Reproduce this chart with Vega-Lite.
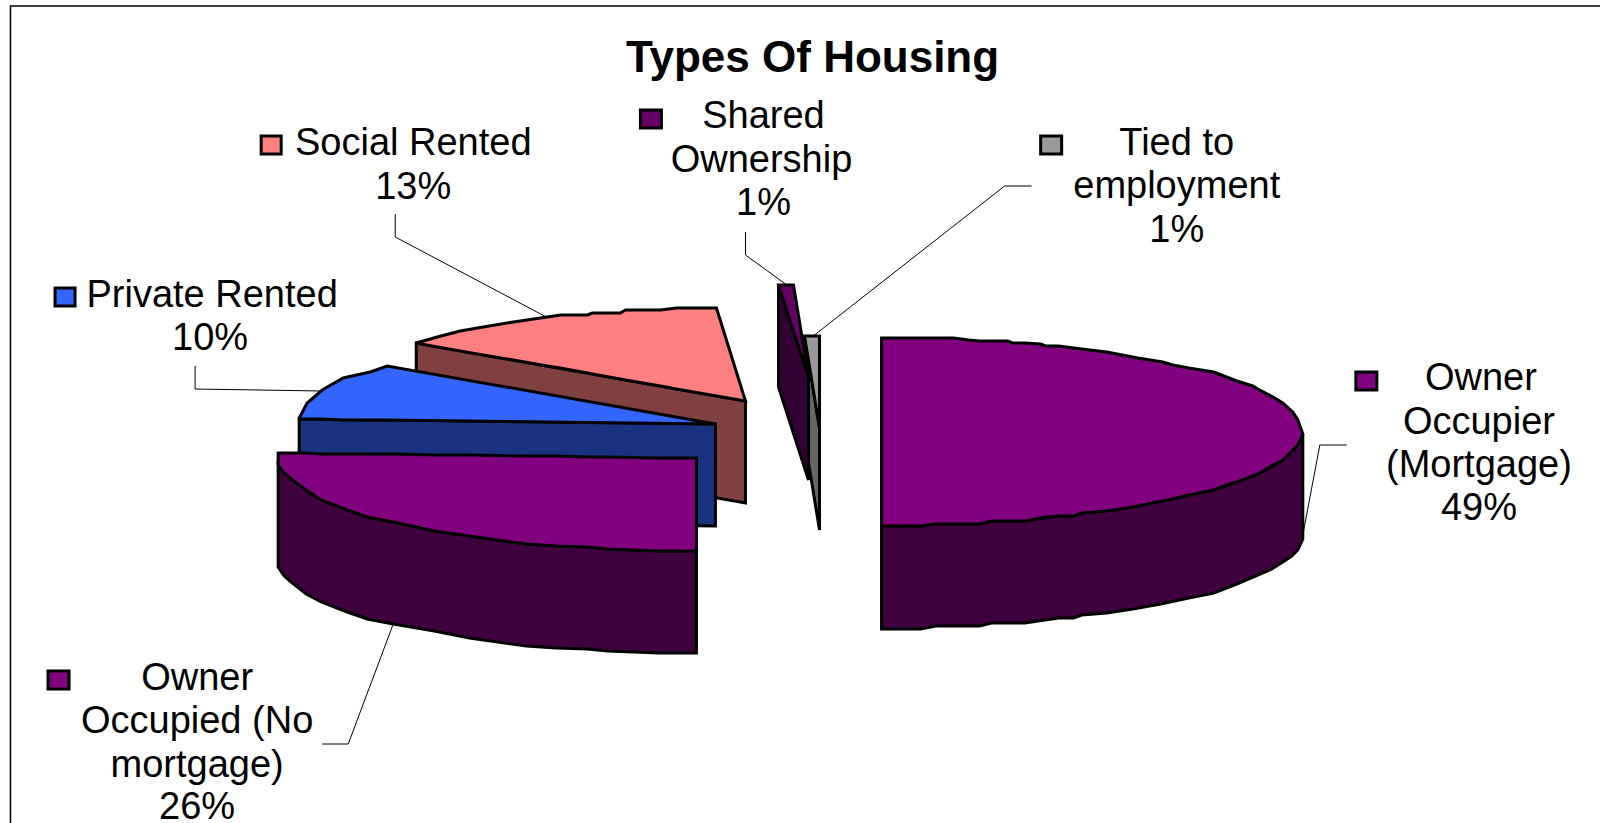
{
"$schema":"https://vega.github.io/schema/vega-lite/v6.json",
"width":1600,"height":823,"padding":0,"autosize":"none",
"background":"white","view":{"stroke":null},
"datasets":{
"faces":[
{"piece":"Social side","x":416,"top":343,"bottom":445},{"piece":"Social side","x":745,"top":401,"bottom":503},
{"piece":"Social top","x":416,"top":343,"bottom":343},{"piece":"Social top","x":437,"top":337,"bottom":347},{"piece":"Social top","x":460,"top":331,"bottom":351},{"piece":"Social top","x":477,"top":328,"bottom":354},{"piece":"Social top","x":513,"top":322,"bottom":360},{"piece":"Social top","x":547,"top":317,"bottom":366},{"piece":"Social top","x":560,"top":315,"bottom":368},{"piece":"Social top","x":587,"top":315,"bottom":373},{"piece":"Social top","x":592,"top":313,"bottom":374},{"piece":"Social top","x":620,"top":313,"bottom":379},{"piece":"Social top","x":625,"top":310,"bottom":380},{"piece":"Social top","x":660,"top":310,"bottom":386},{"piece":"Social top","x":676,"top":308,"bottom":389},{"piece":"Social top","x":716,"top":308,"bottom":396},{"piece":"Social top","x":745,"top":401,"bottom":401},
{"piece":"Private side","x":299,"top":419,"bottom":521},{"piece":"Private side","x":715,"top":424,"bottom":526},
{"piece":"Private top","x":299,"top":418,"bottom":419},{"piece":"Private top","x":307,"top":403,"bottom":419},{"piece":"Private top","x":322,"top":390,"bottom":419},{"piece":"Private top","x":343,"top":378,"bottom":420},{"piece":"Private top","x":370,"top":372,"bottom":420},{"piece":"Private top","x":387,"top":366,"bottom":420},{"piece":"Private top","x":715,"top":424,"bottom":424},
{"piece":"No mortgage side","x":278,"top":465,"bottom":567},{"piece":"No mortgage side","x":284,"top":473,"bottom":576},{"piece":"No mortgage side","x":291,"top":479,"bottom":582},{"piece":"No mortgage side","x":306,"top":490,"bottom":594},{"piece":"No mortgage side","x":321,"top":500,"bottom":602},{"piece":"No mortgage side","x":347,"top":510,"bottom":612},{"piece":"No mortgage side","x":367,"top":517,"bottom":619},{"piece":"No mortgage side","x":393,"top":522,"bottom":624},{"piece":"No mortgage side","x":434,"top":531,"bottom":631},{"piece":"No mortgage side","x":469,"top":536,"bottom":638},{"piece":"No mortgage side","x":526,"top":544,"bottom":646},{"piece":"No mortgage side","x":556,"top":546,"bottom":648},{"piece":"No mortgage side","x":587,"top":547,"bottom":649},{"piece":"No mortgage side","x":607,"top":549,"bottom":651},{"piece":"No mortgage side","x":658,"top":551,"bottom":653},{"piece":"No mortgage side","x":696,"top":551,"bottom":653},
{"piece":"No mortgage top","x":278,"top":453,"bottom":465},{"piece":"No mortgage top","x":284,"top":453,"bottom":473},{"piece":"No mortgage top","x":291,"top":453,"bottom":479},{"piece":"No mortgage top","x":306,"top":453,"bottom":490},{"piece":"No mortgage top","x":321,"top":454,"bottom":500},{"piece":"No mortgage top","x":347,"top":454,"bottom":510},{"piece":"No mortgage top","x":367,"top":454,"bottom":517},{"piece":"No mortgage top","x":393,"top":454,"bottom":522},{"piece":"No mortgage top","x":434,"top":455,"bottom":531},{"piece":"No mortgage top","x":469,"top":455,"bottom":536},{"piece":"No mortgage top","x":526,"top":456,"bottom":544},{"piece":"No mortgage top","x":556,"top":456,"bottom":546},{"piece":"No mortgage top","x":587,"top":457,"bottom":547},{"piece":"No mortgage top","x":607,"top":457,"bottom":549},{"piece":"No mortgage top","x":658,"top":458,"bottom":551},{"piece":"No mortgage top","x":696,"top":458,"bottom":551},
{"piece":"Tied side","x":804,"top":336,"bottom":438},{"piece":"Tied side","x":819,"top":428,"bottom":530},
{"piece":"Shared side","x":778,"top":285,"bottom":387},{"piece":"Shared side","x":808,"top":377,"bottom":480},
{"piece":"Shared top","x":778,"top":285,"bottom":285},{"piece":"Shared top","x":793,"top":285,"bottom":331},{"piece":"Shared top","x":808,"top":377,"bottom":377},
{"piece":"Tied top","x":804,"top":336,"bottom":336},{"piece":"Tied top","x":819,"top":336,"bottom":428},
{"piece":"Mortgage side","x":881,"top":526,"bottom":629},{"piece":"Mortgage side","x":920,"top":526,"bottom":629},{"piece":"Mortgage side","x":935,"top":524,"bottom":626},{"piece":"Mortgage side","x":979,"top":524,"bottom":626},{"piece":"Mortgage side","x":991,"top":521,"bottom":623},{"piece":"Mortgage side","x":1024,"top":521,"bottom":623},{"piece":"Mortgage side","x":1058,"top":516,"bottom":618},{"piece":"Mortgage side","x":1073,"top":516,"bottom":618},{"piece":"Mortgage side","x":1081,"top":513,"bottom":615},{"piece":"Mortgage side","x":1106,"top":511,"bottom":613},{"piece":"Mortgage side","x":1132,"top":507,"bottom":609},{"piece":"Mortgage side","x":1160,"top":501,"bottom":604},{"piece":"Mortgage side","x":1188,"top":495,"bottom":598},{"piece":"Mortgage side","x":1213,"top":490,"bottom":593},{"piece":"Mortgage side","x":1236,"top":482,"bottom":584},{"piece":"Mortgage side","x":1257,"top":474,"bottom":575},{"piece":"Mortgage side","x":1271,"top":467,"bottom":569},{"piece":"Mortgage side","x":1282,"top":460,"bottom":562},{"piece":"Mortgage side","x":1291,"top":452,"bottom":556},{"piece":"Mortgage side","x":1297,"top":445,"bottom":550},{"piece":"Mortgage side","x":1302,"top":434,"bottom":539},
{"piece":"Mortgage top","x":881,"top":338,"bottom":526},{"piece":"Mortgage top","x":920,"top":338,"bottom":526},{"piece":"Mortgage top","x":935,"top":338,"bottom":524},{"piece":"Mortgage top","x":953,"top":338,"bottom":524},{"piece":"Mortgage top","x":968,"top":340,"bottom":524},{"piece":"Mortgage top","x":979,"top":341,"bottom":524},{"piece":"Mortgage top","x":991,"top":341,"bottom":521},{"piece":"Mortgage top","x":1007,"top":341,"bottom":521},{"piece":"Mortgage top","x":1012,"top":343,"bottom":521},{"piece":"Mortgage top","x":1024,"top":343,"bottom":521},{"piece":"Mortgage top","x":1040,"top":344,"bottom":518},{"piece":"Mortgage top","x":1045,"top":346,"bottom":517},{"piece":"Mortgage top","x":1058,"top":346,"bottom":516},{"piece":"Mortgage top","x":1073,"top":348,"bottom":516},{"piece":"Mortgage top","x":1081,"top":349,"bottom":513},{"piece":"Mortgage top","x":1106,"top":352,"bottom":511},{"piece":"Mortgage top","x":1132,"top":357,"bottom":507},{"piece":"Mortgage top","x":1137,"top":358,"bottom":506},{"piece":"Mortgage top","x":1162,"top":362,"bottom":501},{"piece":"Mortgage top","x":1172,"top":365,"bottom":499},{"piece":"Mortgage top","x":1188,"top":368,"bottom":495},{"piece":"Mortgage top","x":1213,"top":372,"bottom":490},{"piece":"Mortgage top","x":1218,"top":374,"bottom":488},{"piece":"Mortgage top","x":1231,"top":379,"bottom":483},{"piece":"Mortgage top","x":1236,"top":381,"bottom":482},{"piece":"Mortgage top","x":1252,"top":386,"bottom":476},{"piece":"Mortgage top","x":1257,"top":389,"bottom":474},{"piece":"Mortgage top","x":1274,"top":398,"bottom":464},{"piece":"Mortgage top","x":1282,"top":403,"bottom":460},{"piece":"Mortgage top","x":1292,"top":412,"bottom":450},{"piece":"Mortgage top","x":1297,"top":420,"bottom":445},{"piece":"Mortgage top","x":1302,"top":434,"bottom":434}
],
"leaders":[
{"id":"social","seq":1,"x":395,"y":214},{"id":"social","seq":2,"x":395,"y":237},{"id":"social","seq":3,"x":546,"y":317},
{"id":"shared","seq":1,"x":745,"y":232},{"id":"shared","seq":2,"x":745,"y":255},{"id":"shared","seq":3,"x":785,"y":284},
{"id":"private","seq":1,"x":195,"y":366},{"id":"private","seq":2,"x":195,"y":389},{"id":"private","seq":3,"x":321,"y":391},
{"id":"tied","seq":1,"x":1031,"y":186},{"id":"tied","seq":2,"x":1004,"y":186},{"id":"tied","seq":3,"x":814,"y":335},
{"id":"nomort","seq":1,"x":322,"y":744},{"id":"nomort","seq":2,"x":348,"y":744},{"id":"nomort","seq":3,"x":393,"y":624},
{"id":"mort","seq":1,"x":1346,"y":445},{"id":"mort","seq":2,"x":1319,"y":445},{"id":"mort","seq":3,"x":1302,"y":535}
],
"frame":[{"seq":1,"x":10.5,"y":823},{"seq":2,"x":10.5,"y":6},{"seq":3,"x":1599,"y":6}],
"keys":[
{"piece":"Social top","x":261,"x2":281,"y":136,"y2":154},
{"piece":"Private top","x":55,"x2":75,"y":288,"y2":306},
{"piece":"Shared top","x":640,"x2":661,"y":110,"y2":128},
{"piece":"Tied top","x":1040,"x2":1061,"y":136,"y2":154},
{"piece":"Mortgage top","x":1355,"x2":1376,"y":372,"y2":390},
{"piece":"No mortgage top","x":48,"x2":69,"y":671,"y2":689}
],
"labels":[
{"text":"Social Rented","x":413,"y":155},{"text":"13%","x":413,"y":199},
{"text":"Private Rented","x":212,"y":307},{"text":"10%","x":210,"y":350},
{"text":"Shared","x":763,"y":128},{"text":"Ownership","x":761,"y":172},{"text":"1%","x":763,"y":215},
{"text":"Tied to","x":1176,"y":155},{"text":"employment","x":1176,"y":198},{"text":"1%","x":1176,"y":242},
{"text":"Owner","x":1480,"y":390},{"text":"Occupier","x":1478,"y":434},{"text":"(Mortgage)","x":1478,"y":477},{"text":"49%","x":1478,"y":520},
{"text":"Owner","x":197,"y":690},{"text":"Occupied (No","x":197,"y":733},{"text":"mortgage)","x":197,"y":777},{"text":"26%","x":197,"y":819}
],
"title":[{"text":"Types Of Housing","x":812,"y":71.5}]
},
"encoding":{},
"layer":[
{"data":{"name":"frame"},"mark":{"type":"line","stroke":"black","strokeWidth":1.5},
 "encoding":{"x":{"field":"x","type":"quantitative","scale":{"domain":[0,1599],"nice":false,"zero":false},"axis":null},"y":{"field":"y","type":"quantitative","scale":{"domain":[823,0],"nice":false,"zero":false},"axis":null},"order":{"field":"seq"}}},
{"data":{"name":"leaders"},"mark":{"type":"line","stroke":"black","strokeWidth":1},
 "encoding":{"x":{"field":"x","type":"quantitative"},"y":{"field":"y","type":"quantitative"},"detail":{"field":"id"},"order":{"field":"seq"}}},
{"data":{"name":"faces"},"mark":{"type":"area","stroke":"black","strokeWidth":3,"strokeJoin":"miter","opacity":1,"fillOpacity":1,"orient":"vertical"},
 "encoding":{"x":{"field":"x","type":"quantitative"},"y":{"field":"top","type":"quantitative"},"y2":{"field":"bottom"},
  "fill":{"field":"piece","type":"nominal","legend":null,"scale":{"domain":["Social side","Social top","Private side","Private top","No mortgage side","No mortgage top","Tied side","Shared side","Shared top","Tied top","Mortgage side","Mortgage top"],"range":["#804040","#FF8080","#1A3380","#3366FF","#400040","#800080","#666666","#330033","#660066","#999999","#400040","#800080"]}}}},
{"data":{"name":"keys"},"mark":{"type":"rect","stroke":"black","strokeWidth":3},
 "encoding":{"x":{"field":"x","type":"quantitative"},"x2":{"field":"x2"},"y":{"field":"y","type":"quantitative"},"y2":{"field":"y2"},"fill":{"field":"piece","type":"nominal","legend":null}}},
{"data":{"name":"labels"},"mark":{"type":"text","font":"Liberation Sans","fontSize":38,"align":"center","baseline":"alphabetic","fill":"black"},
 "encoding":{"x":{"field":"x","type":"quantitative"},"y":{"field":"y","type":"quantitative"},"text":{"field":"text"}}},
{"data":{"name":"title"},"mark":{"type":"text","font":"Liberation Sans","fontSize":44,"fontWeight":"bold","align":"center","baseline":"alphabetic","fill":"black"},
 "encoding":{"x":{"field":"x","type":"quantitative"},"y":{"field":"y","type":"quantitative"},"text":{"field":"text"}}}
]
}
